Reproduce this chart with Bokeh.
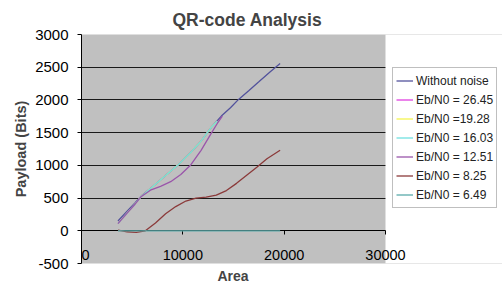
from bokeh.plotting import figure
from bokeh.models import (FixedTicker, Legend, LegendItem, Title, Range1d,
                          BoxAnnotation)
from bokeh.embed import file_html
from bokeh.resources import INLINE

# ---- data ----
area_main = [3600, 4500, 5300, 5900, 7100, 8300, 9600, 10800, 11800, 12800,
             13800, 14700, 15500, 16500, 17500, 18600, 19600]
pay_main = [150, 300, 430, 530, 686, 845, 1017, 1200, 1370, 1580,
            1753, 1880, 2008, 2140, 2277, 2428, 2556]

area_hi = [3600, 4500, 5300, 5900, 7100, 8300, 9600, 10800, 11800, 12800, 13400]
pay_26_45 = [110, 270, 410, 525, 686, 845, 1017, 1200, 1370, 1580, 1675]
pay_19_28 = [110, 270, 410, 525, 686, 845, 1017, 1200, 1370, 1580, 1675]
pay_16_03 = [110, 270, 410, 525, 686, 845, 1017, 1200, 1370, 1580, 1675]

area_12 = [3600, 4500, 5300, 5900, 6800, 7800, 8800, 9800, 10800, 11800,
           12800, 13400, 13900]
pay_12_51 = [110, 270, 410, 525, 620, 680, 750, 860, 1010, 1230,
             1490, 1640, 1753]

area_lo = [3600, 4500, 5400, 6300, 7300, 8300, 9300, 10300, 11300, 12300,
           13300, 14300, 15300, 16300, 17300, 18300, 19600]
pay_8_25 = [10, -15, -25, 0, 120, 260, 370, 455, 500, 515,
            545, 615, 725, 850, 970, 1100, 1230]
pay_6_49 = [0, 0, 0, 0, 0, 0, 0, 0, 0, 0,
            0, 0, 0, 0, 0, 0, 0]

series_labels = ["Without noise", "Eb/N0 = 26.45", "Eb/N0 =19.28",
                 "Eb/N0 = 16.03", "Eb/N0 = 12.51", "Eb/N0 = 8.25",
                 "Eb/N0 = 6.49"]
x_ticks = [0, 10000, 20000, 30000]
y_ticks = [-500, 0, 500, 1000, 1500, 2000, 2500, 3000]
grid_ticks = [500, 1000, 1500, 2000, 2500]
x_min, x_max = 0, 30000
y_min, y_max = -500, 3000

FONT = "Liberation Sans"

# the frame runs to the right edge so the legend (outside the gray plot
# area) is not clipped; the gray area covers x_min..x_max only
FRAME_LEFT, PLOT_RIGHT, FIG_W = 81, 385, 502
x_end = x_max * (FIG_W - FRAME_LEFT) / (PLOT_RIGHT - FRAME_LEFT)

p = figure(width=FIG_W, height=286, output_backend="svg", toolbar_location=None,
           x_range=Range1d(x_min, x_end), y_range=Range1d(y_min, y_max),
           min_border_left=FRAME_LEFT, min_border_right=0,
           min_border_top=34, min_border_bottom=22)

p.title.text = "QR-code Analysis"
p.title.text_font = FONT
p.title.text_font_size = "17.5px"
p.title.text_font_style = "bold"
p.title.align = "left"
p.title.offset = 91
p.title.standoff = 9

p.add_layout(Title(text="Area", align="left", offset=136, text_font=FONT,
                   text_font_size="14px", text_font_style="bold",
                   standoff=5), "below")

p.background_fill_color = "#C0C0C0"
p.border_fill_color = "white"
p.outline_line_color = None

# x axis sits on y = 0
xa = p.xaxis[0]
xa.fixed_location = 0
xa.bounds = (x_min, x_max)
xa.ticker = FixedTicker(ticks=x_ticks)
# the label at the origin is nudged right so the frame edge does not clip it
xa.major_label_overrides = {0: "\u00a0\u00a00"}
xa.minor_tick_line_color = None
xa.major_tick_in = 0
xa.major_tick_out = 4
xa.axis_line_color = "black"
xa.major_tick_line_color = "black"
xa.major_label_text_font = FONT
xa.major_label_text_font_size = "14.5px"
xa.major_label_text_color = "black"
xa.major_label_standoff = 12

ya = p.yaxis[0]
ya.ticker = FixedTicker(ticks=y_ticks)
ya.major_label_overrides = {-500: "-500"}
ya.minor_tick_line_color = None
ya.major_tick_in = 0
ya.major_tick_out = 4
ya.axis_line_color = "black"
ya.major_tick_line_color = "black"
ya.major_label_text_font = FONT
ya.major_label_text_font_size = "15px"
ya.major_label_text_color = "black"
ya.major_label_standoff = 9
ya.axis_label = "Payload (Bits)"
ya.axis_label_text_font = FONT
ya.axis_label_text_font_size = "14.5px"
ya.axis_label_text_font_style = "bold"
ya.axis_label_standoff = 3

p.xgrid.grid_line_color = None
p.ygrid.ticker = FixedTicker(ticks=grid_ticks)
p.ygrid.grid_line_color = "#1a1a1a"
p.ygrid.grid_line_width = 1

# white area to the right of the gray plot area (below axes and lines)
p.add_layout(BoxAnnotation(left=x_max, fill_color="white", fill_alpha=1,
                           line_color=None, level="underlay"))

colors = ["#52529C", "#E040E0", "#F5F550", "#70E0E0", "#9A55AA",
          "#8B3A3A", "#5AAAAA"]
data = [(area_main, pay_main), (area_hi, pay_26_45), (area_hi, pay_19_28),
        (area_hi, pay_16_03), (area_12, pay_12_51), (area_lo, pay_8_25),
        (area_lo, pay_6_49)]

items = []
for (xs, ys), c, lab in zip(data, colors, series_labels):
    # lines drawn above the axis so the zero-valued series shows on the 0 line
    r = p.line(xs, ys, line_color=c, line_width=1.3, level="annotation")
    items.append(LegendItem(label=lab, renderers=[r]))

legend = Legend(items=items, location=(311, 55))
legend.background_fill_color = "white"
legend.background_fill_alpha = 1
legend.border_line_color = "#7f7f7f"
legend.border_line_width = 1
legend.label_text_font = FONT
legend.label_text_font_size = "12px"
legend.label_text_color = "#222222"
legend.padding = 3
legend.spacing = 0
legend.margin = 0
legend.label_height = 19
legend.glyph_height = 19
legend.glyph_width = 17
legend.label_standoff = 3
p.add_layout(legend)

open("out.html", "w").write(file_html(p, INLINE))
